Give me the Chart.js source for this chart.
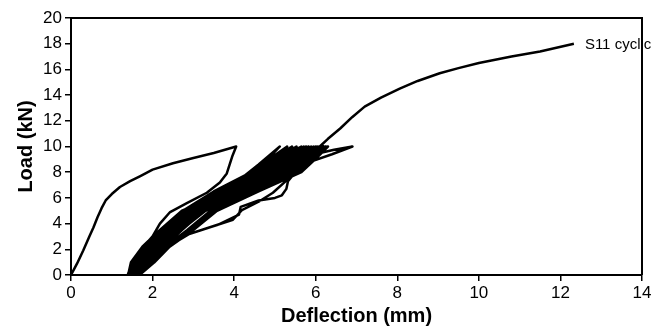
<!DOCTYPE html>
<html>
<head>
<meta charset="utf-8">
<script src="https://cdn.jsdelivr.net/npm/chart.js@4/dist/chart.umd.min.js"></script>
<style>
  html, body { margin: 0; padding: 0; background: #fff; }
  #wrap { width: 672px; height: 329px; position: relative; }
</style>
</head>
<body>
<div id="wrap"><canvas id="c"></canvas></div>
<script>
// ---- Data ----
const seriesLabel = "S11 cyclic";
const xTitle = "Deflection (mm)";
const yTitle = "Load (kN)";
const xTicks = [0, 2, 4, 6, 8, 10, 12, 14];
const yTicks = [0, 2, 4, 6, 8, 10, 12, 14, 16, 18, 20];

// first loading to 10 kN and first unloading
const firstDefl = [0, 0.15, 0.3, 0.45, 0.55, 0.65, 0.75, 0.85, 1.0, 1.2, 1.45, 1.7, 2.0, 2.5, 3.0, 3.5, 4.05,
                   3.95, 3.82, 3.65, 3.33, 2.84, 2.43, 2.18, 2.0, 1.72, 1.52, 1.40];
const firstLoad = [0, 0.9, 1.9, 3.0, 3.7, 4.5, 5.2, 5.8, 6.3, 6.85, 7.3, 7.7, 8.2, 8.7, 9.1, 9.5, 10.0,
                   9.2, 7.9, 7.2, 6.4, 5.6, 4.9, 4.0, 3.0, 2.0, 1.0, 0];

// repeated reload / unload cycles (one inner array per cycle)
const cycleDefl = [
  [1.47, 1.75, 2.18, 2.72, 3.40, 3.97, 4.60, 5.12, 4.88, 4.42, 3.50, 2.74, 2.19, 1.78, 1.50, 1.39],
  [1.67, 1.98, 2.44, 3.00, 3.88, 4.81, 5.25, 5.53, 5.07, 4.61, 3.74, 2.92, 2.35, 1.88, 1.59, 1.45],
  [1.56, 1.85, 2.31, 2.89, 3.69, 4.55, 5.00, 5.30, 4.94, 4.48, 3.60, 2.80, 2.25, 1.82, 1.53, 1.41],
  [1.79, 2.12, 2.57, 3.12, 4.07, 5.07, 5.50, 5.77, 5.19, 4.74, 3.84, 2.97, 2.41, 1.95, 1.64, 1.49],
  [1.62, 1.92, 2.38, 2.95, 3.79, 4.68, 5.13, 5.42, 5.00, 4.55, 3.69, 2.89, 2.31, 1.85, 1.56, 1.43],
  [1.91, 2.25, 2.69, 3.24, 4.26, 5.33, 5.74, 6.01, 5.31, 4.87, 3.93, 3.03, 2.47, 2.02, 1.70, 1.53],
  [1.82, 2.15, 2.60, 3.15, 4.12, 5.13, 5.56, 5.83, 5.29, 4.84, 3.91, 3.02, 2.46, 2.00, 1.69, 1.52],
  [1.73, 2.05, 2.50, 3.06, 3.98, 4.94, 5.37, 5.65, 5.13, 4.68, 3.79, 2.95, 2.38, 1.92, 1.62, 1.47],
  [1.85, 2.19, 2.63, 3.18, 4.17, 5.20, 5.62, 5.89, 5.37, 4.94, 3.98, 3.06, 2.50, 2.05, 1.73, 1.55],
  [1.93, 2.29, 2.72, 3.26, 4.31, 5.39, 5.80, 6.06, 5.41, 4.97, 4.01, 3.08, 2.52, 2.07, 1.75, 1.56],
  [1.96, 2.32, 2.85, 3.42, 4.42, 5.46, 5.87, 6.12, 5.25, 4.81, 3.88, 3.00, 2.44, 1.98, 1.67, 1.51],
  [1.76, 2.09, 2.54, 3.09, 4.03, 5.00, 5.44, 5.71, 5.34, 4.90, 3.95, 3.04, 2.48, 2.03, 1.71, 1.53],
  [1.99, 2.35, 2.90, 3.48, 4.48, 5.52, 5.93, 6.18, 5.16, 4.71, 3.82, 2.96, 2.40, 1.94, 1.63, 1.48],
  [1.88, 2.22, 2.66, 3.21, 4.22, 5.26, 5.68, 5.95, 5.44, 5.00, 4.03, 3.09, 2.54, 2.09, 1.76, 1.57],
  [2.02, 2.39, 2.95, 3.52, 4.52, 5.59, 5.99, 6.24, 5.50, 5.07, 4.07, 3.12, 2.57, 2.12, 1.79, 1.58],
  [2.05, 2.42, 3.00, 3.58, 4.60, 5.65, 6.05, 6.30, 5.19, 4.74, 3.84, 2.97, 2.41, 1.95, 1.64, 1.60],
  [1.80, 2.20, 2.67, 3.20, 3.97, 4.19, 4.60, 4.95, 5.30, 5.45, 5.75, 6.20,
   5.07, 4.61, 3.74, 2.92, 2.35, 1.90, 1.66, 1.64],
  [1.98, 2.38, 2.90, 3.60, 4.12, 4.16, 4.60, 5.00, 5.17, 5.28, 5.32, 5.55, 5.86, 6.40, 6.90,
   6.45, 6.05, 5.70, 5.20, 4.40, 3.30, 2.70, 2.20, 1.85, 1.68]
];
const cycleLoad = [
  [1.0, 2.2, 3.5, 5.0, 5.9, 7.0, 8.6, 10, 9.2, 8, 6.5, 5, 3.5, 2.2, 1, 0],
  [1, 2.2, 3.5, 5, 6.5, 8, 9.2, 10, 9.2, 8, 6.5, 5, 3.5, 2.2, 1, 0],
  [1, 2.2, 3.5, 5, 6.5, 8, 9.2, 10, 9.2, 8, 6.5, 5, 3.5, 2.2, 1, 0],
  [1, 2.2, 3.5, 5, 6.5, 8, 9.2, 10, 9.2, 8, 6.5, 5, 3.5, 2.2, 1, 0],
  [1, 2.2, 3.5, 5, 6.5, 8, 9.2, 10, 9.2, 8, 6.5, 5, 3.5, 2.2, 1, 0],
  [1, 2.2, 3.5, 5, 6.5, 8, 9.2, 10, 9.2, 8, 6.5, 5, 3.5, 2.2, 1, 0],
  [1, 2.2, 3.5, 5, 6.5, 8, 9.2, 10, 9.2, 8, 6.5, 5, 3.5, 2.2, 1, 0],
  [1, 2.2, 3.5, 5, 6.5, 8, 9.2, 10, 9.2, 8, 6.5, 5, 3.5, 2.2, 1, 0],
  [1, 2.2, 3.5, 5, 6.5, 8, 9.2, 10, 9.2, 8, 6.5, 5, 3.5, 2.2, 1, 0],
  [1, 2.2, 3.5, 5, 6.5, 8, 9.2, 10, 9.2, 8, 6.5, 5, 3.5, 2.2, 1, 0],
  [1, 2.2, 3.5, 5, 6.5, 8, 9.2, 10, 9.2, 8, 6.5, 5, 3.5, 2.2, 1, 0],
  [1, 2.2, 3.5, 5, 6.5, 8, 9.2, 10, 9.2, 8, 6.5, 5, 3.5, 2.2, 1, 0],
  [1, 2.2, 3.5, 5, 6.5, 8, 9.2, 10, 9.2, 8, 6.5, 5, 3.5, 2.2, 1, 0],
  [1, 2.2, 3.5, 5, 6.5, 8, 9.2, 10, 9.2, 8, 6.5, 5, 3.5, 2.2, 1, 0],
  [1, 2.2, 3.5, 5, 6.5, 8, 9.2, 10, 9.2, 8, 6.5, 5, 3.5, 2.2, 1, 0],
  [1, 2.2, 3.5, 5, 6.5, 8, 9.2, 10, 9.2, 8, 6.5, 5, 3.5, 2.2, 1, 0],
  [1.0, 2.2, 2.96, 3.5, 4.3, 5.05, 5.7, 6.4, 7.4, 8.6, 9.5, 10,
   9.2, 8, 6.5, 5, 3.5, 2.2, 1, 0],
  [1.0, 2.2, 3.2, 3.9, 4.7, 5.3, 5.8, 6.0, 6.2, 6.7, 7.3, 8.2, 8.8, 9.4, 10,
   9.75, 9.45, 8.9, 7.9, 6.5, 5.0, 3.5, 2.2, 1.0, 0]
];

// final loading to failure
const finalDefl = [2.05, 2.42, 3.00, 3.58, 4.55, 5.60, 5.95, 6.10, 6.30, 6.60, 6.90, 7.20, 7.60, 8.06, 8.50, 9.04, 9.50, 10.0, 10.8, 11.5, 12.33];
const finalLoad = [1.0, 2.2, 3.5, 5.0, 6.5, 8.0, 9.2, 10.0, 10.6, 11.4, 12.3, 13.1, 13.8, 14.5, 15.1, 15.7, 16.1, 16.5, 17.0, 17.4, 18.0];

// ---- Build the point list for the library ----
const points = [];
firstDefl.forEach((d, i) => points.push({x: d, y: firstLoad[i]}));
cycleDefl.forEach((arr, c) => arr.forEach((d, i) => points.push({x: d, y: cycleLoad[c][i]})));
finalDefl.forEach((d, i) => points.push({x: d, y: finalLoad[i]}));

const FONT = "'Liberation Sans', Arial, Helvetica, sans-serif";

const framePlugin = {
  id: 'frame',
  beforeDatasetsDraw(chart) {
    const {ctx, chartArea: a} = chart;
    ctx.save();
    ctx.strokeStyle = '#000';
    ctx.lineWidth = 2;
    ctx.beginPath();
    ctx.moveTo(a.left, a.top);
    ctx.lineTo(a.right, a.top);
    ctx.lineTo(a.right, a.bottom);
    ctx.stroke();
    ctx.restore();
  }
};

const labelPlugin = {
  id: 'endLabel',
  afterDatasetsDraw(chart) {
    const {ctx, scales} = chart;
    const last = points[points.length - 1];
    const px = scales.x.getPixelForValue(last.x);
    const py = scales.y.getPixelForValue(last.y);
    ctx.save();
    ctx.font = "15px " + FONT;
    ctx.fillStyle = '#000';
    ctx.textAlign = 'left';
    ctx.textBaseline = 'middle';
    ctx.fillText(seriesLabel, px + 11, py + 1);
    ctx.restore();
  }
};

new Chart(document.getElementById('c'), {
  type: 'scatter',
  data: {
    datasets: [{
      label: seriesLabel,
      data: points,
      showLine: true,
      borderColor: '#000',
      backgroundColor: '#000',
      borderWidth: 2.5,
      borderJoinStyle: 'round',
      pointRadius: 0,
      tension: 0,
      fill: false
    }]
  },
  options: {
    responsive: true,
    maintainAspectRatio: false,
    animation: false,
    devicePixelRatio: 1,
    layout: { padding: { top: 18, right: 30, left: 0, bottom: 0 } },
    plugins: { legend: { display: false }, tooltip: { enabled: false } },
    scales: {
      x: {
        type: 'linear', min: 0, max: 14,
        afterBuildTicks(scale) { scale.ticks = xTicks.map(v => ({value: v})); },
        afterFit(scale) { scale.height = 54; },
        ticks: { color: '#000', font: { family: FONT, size: 17 }, padding: 2, maxRotation: 0, autoSkip: false },
        grid: { display: true, drawOnChartArea: false, drawTicks: true, tickLength: 6, color: '#000', lineWidth: 1.5 },
        border: { display: true, color: '#000', width: 2 },
        title: { display: true, text: xTitle, color: '#000', font: { family: FONT, size: 20, weight: 'bold' }, padding: { top: 0, bottom: 1 } }
      },
      y: {
        type: 'linear', min: 0, max: 20,
        afterBuildTicks(scale) { scale.ticks = yTicks.map(v => ({value: v})); },
        afterFit(scale) { scale.width = 71; },
        ticks: { color: '#000', font: { family: FONT, size: 17 }, padding: 3, autoSkip: false },
        grid: { display: true, drawOnChartArea: false, drawTicks: true, tickLength: 6, color: '#000', lineWidth: 1.5 },
        border: { display: true, color: '#000', width: 2 },
        title: { display: true, text: yTitle, color: '#000', font: { family: FONT, size: 20, weight: 'bold' }, padding: { top: 14, bottom: 0 } }
      }
    }
  },
  plugins: [framePlugin, labelPlugin]
});
</script>
</body>
</html>
